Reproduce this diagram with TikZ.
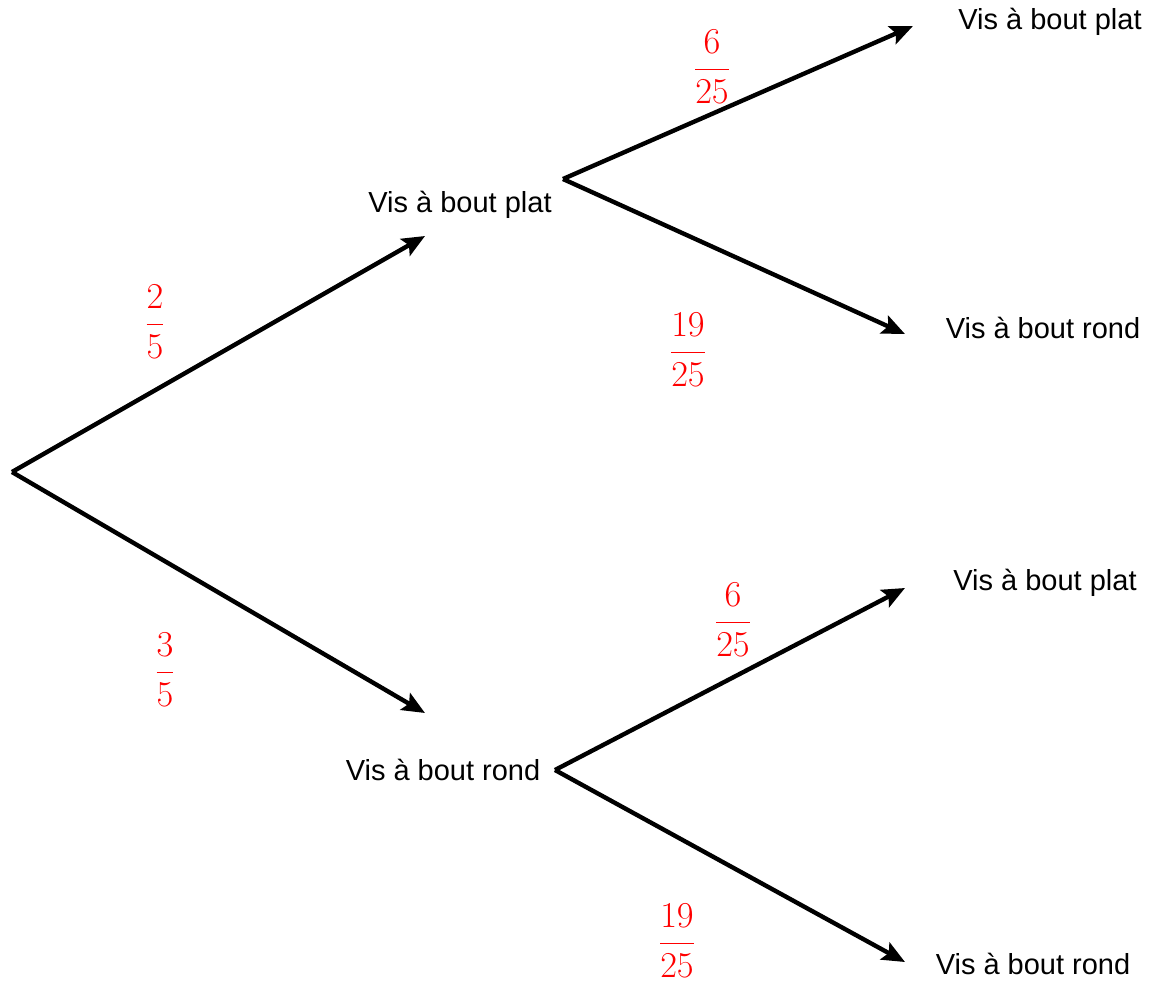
\documentclass[tikz,border=0pt]{standalone}
\usepackage{amsmath}
\usepackage{fontspec}
\setsansfont{Liberation Sans}
\usetikzlibrary{arrows.meta}

\begin{document}
\begin{tikzpicture}[x=0.02cm, y=-0.02cm,
    outcome/.style={inner sep=0pt, font=\sffamily\fontsize{16.5}{19}\selectfont},
    prob/.style={inner sep=0pt, text=red, font=\fontsize{22}{26}\selectfont},
    branch/.style={-{Stealth[length=13pt, width=11pt, inset=2.5pt]}, line width=2.5pt, black}
  ]
    \useasboundingbox (0,0) rectangle (1157,991);

    % points where the branches start and end
    \coordinate (root) at (12,472);
    \coordinate (platEnd) at (425,236);
    \coordinate (rondEnd) at (425,713);
    \coordinate (platFork) at (563,179);
    \coordinate (rondFork) at (555,770);
    \coordinate (ppEnd) at (913,26);
    \coordinate (prEnd) at (905,334);
    \coordinate (rpEnd) at (905,588);
    \coordinate (rrEnd) at (905,962);

    % outcomes
    \node[outcome] (plat) at (460,205) {Vis à bout plat};
    \node[outcome] (rond) at (443,770) {Vis à bout rond};
    \node[outcome] (platPlat) at (1050,22) {Vis à bout plat};
    \node[outcome] (platRond) at (1043,328) {Vis à bout rond};
    \node[outcome] (rondPlat) at (1045,583) {Vis à bout plat};
    \node[outcome] (rondRond) at (1033,964) {Vis à bout rond};

    % probabilities
    \node[prob] (pPlat) at (155,322) {$\dfrac{2}{5}$};
    \node[prob] (pRond) at (165,670) {$\dfrac{3}{5}$};
    \node[prob] (pPlatPlat) at (712,67) {$\dfrac{6}{25}$};
    \node[prob] (pPlatRond) at (688,350) {$\dfrac{19}{25}$};
    \node[prob] (pRondPlat) at (733,620) {$\dfrac{6}{25}$};
    \node[prob] (pRondRond) at (677,941) {$\dfrac{19}{25}$};

    \draw[branch] (root) -- (platEnd);
    \draw[branch] (root) -- (rondEnd);
    \draw[branch] (platFork) -- (ppEnd);
    \draw[branch] (platFork) -- (prEnd);
    \draw[branch] (rondFork) -- (rpEnd);
    \draw[branch] (rondFork) -- (rrEnd);
  \end{tikzpicture}
\end{document}
